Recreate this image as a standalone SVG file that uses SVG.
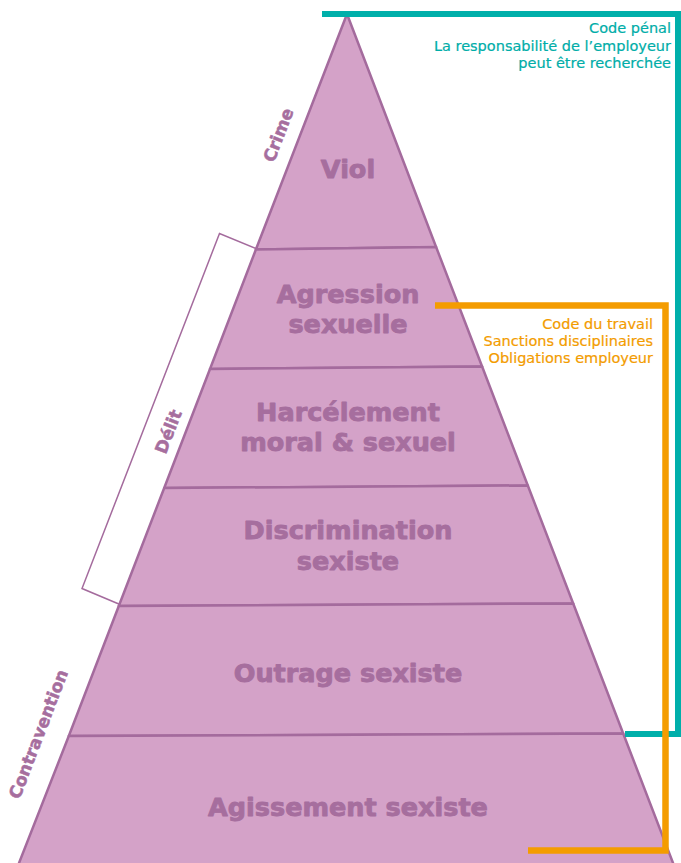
<svg xmlns="http://www.w3.org/2000/svg" width="681" height="863" viewBox="0 0 681 863">
  <style>
    .band { fill: #D4A2C8; stroke: #A46B9D; stroke-width: 2.5; stroke-linejoin: round; }
    .lbl { font-family: "DejaVu Sans", "Liberation Sans", sans-serif; font-weight: bold; font-size: 25.5px; fill: #A66E9E; stroke: #A66E9E; stroke-width: 0.9; stroke-linejoin: round; text-anchor: middle; }
    .side { font-family: "DejaVu Sans", "Liberation Sans", sans-serif; font-weight: bold; font-size: 17px; fill: #A66E9E; stroke: #A66E9E; stroke-width: 0.5; text-anchor: middle; }
    .teal { font-family: "DejaVu Sans", "Liberation Sans", sans-serif; font-size: 14.5px; fill: #00ADA8; stroke: #00ADA8; stroke-width: 0.2; text-anchor: end; }
    .orange { font-family: "DejaVu Sans", "Liberation Sans", sans-serif; font-size: 14.5px; fill: #F39C00; stroke: #F39C00; stroke-width: 0.2; text-anchor: end; }
  </style>
  <rect width="681" height="863" fill="#FFFFFF"/>

  <g id="viol">
    <polygon class="band" points="347,14 436.1,247 255.9,249.5"/>
    <text class="lbl" x="348" y="178.3">Viol</text>
  </g>
  <g id="agression-sexuelle">
    <polygon class="band" points="255.9,249.5 436.1,247 482.1,366.5 210,369"/>
    <text class="lbl" x="348" y="303.3">Agression</text>
    <text class="lbl" x="348" y="333.3">sexuelle</text>
  </g>
  <g id="harcelement">
    <polygon class="band" points="210,369 482.1,366.5 527.8,485.5 164.2,488"/>
    <text class="lbl" x="348" y="421">Harcélement</text>
    <text class="lbl" x="348" y="451">moral &amp; sexuel</text>
  </g>
  <g id="discrimination">
    <polygon class="band" points="164.2,488 527.8,485.5 573.2,603.5 118.8,606"/>
    <text class="lbl" x="348" y="539.3">Discrimination</text>
    <text class="lbl" x="348" y="570">sexiste</text>
  </g>
  <g id="outrage">
    <polygon class="band" points="118.8,606 573.2,603.5 623.2,733.5 68.8,736"/>
    <text class="lbl" x="348" y="681.7">Outrage sexiste</text>
  </g>
  <g id="agissement">
    <polygon class="band" points="68.8,736 623.2,733.5 676.5,872 15.5,872"/>
    <text class="lbl" x="348" y="815.7">Agissement sexiste</text>
  </g>

  <g id="crime-label">
    <text class="side" transform="translate(278.3,135) rotate(-69)" x="0" y="6">Crime</text>
  </g>
  <g id="delit-label">
    <polyline points="256,248.5 219.5,233.5 82,588.5 120,604.5" fill="none" stroke="#A46B9D" stroke-width="1.5"/>
    <text class="side" transform="translate(168.3,431.7) rotate(-69)" x="0" y="6">Délit</text>
  </g>
  <g id="contravention-label">
    <text class="side" transform="translate(38.3,734) rotate(-69)" x="0" y="6">Contravention</text>
  </g>

  <g id="connectors">
    <polyline points="322,14 678,14 678,734 625,734" fill="none" stroke="#00AFAA" stroke-width="6" stroke-linejoin="miter"/>
    <polyline points="435,305.5 665.5,305.5 665.5,850.5 528,850.5" fill="none" stroke="#F49C00" stroke-width="6.5" stroke-linejoin="miter"/>
  </g>

  <g id="code-penal">
    <text class="teal" x="671" y="33.4">Code pénal</text>
    <text class="teal" x="671" y="50.7">La responsabilité de l’employeur</text>
    <text class="teal" x="671" y="67.9">peut être recherchée</text>
  </g>
  <g id="code-travail">
    <text class="orange" x="653" y="329">Code du travail</text>
    <text class="orange" x="653" y="346.2">Sanctions disciplinaires</text>
    <text class="orange" x="653" y="363.4">Obligations employeur</text>
  </g>
</svg>
